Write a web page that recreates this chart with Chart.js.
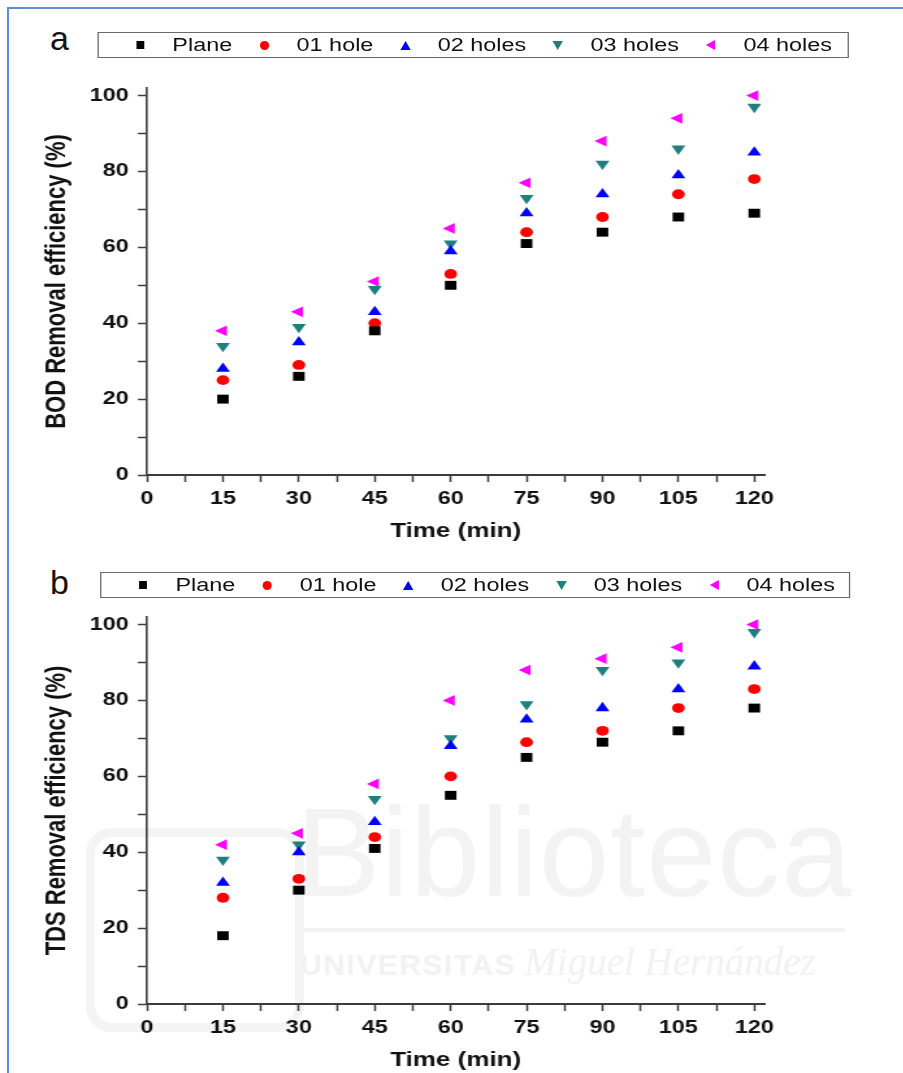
<!DOCTYPE html>
<html>
<head>
<meta charset="utf-8">
<script src="https://cdn.jsdelivr.net/npm/chart.js@4.4.1/dist/chart.umd.min.js"></script>
<style>
  html, body { margin: 0; padding: 0; background: #fff; width: 903px; height: 1073px; overflow: hidden;
    font-family: "Liberation Sans", Arial, sans-serif; }
  #frame { position: absolute; left: 7px; top: 7px; width: 1000px; height: 1200px;
    border-left: 2px solid #5b8fd6; border-top: 2px solid #5b8fd6; }
  .letter { position: absolute; font-size: 34px; color: #111; line-height: 1; }
  #wm { position: absolute; left: 0; top: 0; width: 903px; height: 1073px; pointer-events: none; }
  #wm .big { position: absolute; left: 296px; top: 790px; font-size: 126px; color: #f3f3f3; line-height: 1; letter-spacing: 1px; }
  #wm .rule { position: absolute; left: 300px; top: 928px; width: 545px; height: 4px; background: #f3f3f3; }
  #wm .sub { position: absolute; left: 300px; top: 942px; font-size: 30px; color: #f2f2f2; line-height: 1; white-space: nowrap; }
  #wm .sub b { font-weight: bold; letter-spacing: 1.5px; }
  #wm .sub i { font-family: "Liberation Serif", "DejaVu Serif", serif; font-style: italic; font-size: 39px; }
  #wm .logo { position: absolute; left: 86px; top: 828px; width: 200px; height: 186px; border: 9px solid #f4f4f4; border-radius: 26px; }
  #wrap { position: absolute; left: 0; top: 0; width: 695px; height: 1073px; transform: scaleX(1.3); transform-origin: 0 0; }
  .legend { position: absolute; height: 26px; border: 1px solid #6a6a6a; box-sizing: border-box; display: flex;
    align-items: center; font-size: 18px; color: #111; padding-left: 27px; white-space: nowrap; }
  .item { display: flex; align-items: center; margin-right: 19.5px; }
  .mkbox { width: 10px; height: 10px; margin-right: 20px; display: flex; align-items: center; justify-content: center; }
  .panel { position: absolute; left: 0; }
</style>
</head>
<body>
<div id="wm">
  <div class="logo"></div>
  <div class="big">Biblioteca</div>
  <div class="rule"></div>
  <div class="sub"><b>UNIVERSITAS</b> <i>Miguel Hernández</i></div>
</div>
<div id="frame"></div>
<div class="letter" style="left:50px; top:21px;">a</div>
<div class="letter" style="left:50px; top:565px;">b</div>
<div id="wrap">
  <div class="legend" id="legA" style="left:74.6px; top:32px; width:578px;"></div>
  <div class="legend" id="legB" style="left:77px; top:572px; width:577px;"></div>
  <div class="panel" style="top:60px;"><canvas id="chartA" width="680" height="490"></canvas></div>
  <div class="panel" style="top:589px;"><canvas id="chartB" width="680" height="490"></canvas></div>
</div>

<script>
// ---- data ----
const times = [15, 30, 45, 60, 75, 90, 105, 120];
const seriesNames = ["Plane", "01 hole", "02 holes", "03 holes", "04 holes"];

const bodPlane = [20, 26, 38, 50, 61, 64, 68, 69];
const bodHole1 = [25, 29, 40, 53, 64, 68, 74, 78];
const bodHole2 = [28, 35, 43, 59, 69, 74, 79, 85];
const bodHole3 = [34, 39, 49, 61, 73, 82, 86, 97];
const bodHole4 = [38, 43, 51, 65, 77, 88, 94, 100];

const tdsPlane = [18, 30, 41, 55, 65, 69, 72, 78];
const tdsHole1 = [28, 33, 44, 60, 69, 72, 78, 83];
const tdsHole2 = [32, 40, 48, 68, 75, 78, 83, 89];
const tdsHole3 = [38, 42, 54, 70, 79, 88, 90, 98];
const tdsHole4 = [42, 45, 58, 80, 88, 91, 94, 100];

const yTickLabels = [0, 20, 40, 60, 80, 100];
const xTickLabels = [0, 15, 30, 45, 60, 75, 90, 105, 120];

// ---- styles ----
const colors = ["#000000", "#ff0000", "#0000ff", "#1f7f7f", "#ff00ff"];
const pointStyles = ["rect", "circle", "triangle", "triangle", "triangle"];
const rotations = [0, 0, 0, 180, -90];
const radii = [6.3, 4.9, 6.2, 6.2, 6.2];
const FONT = "'Liberation Sans', Arial, Helvetica, sans-serif";
const AXIS = "#3c3c3c";

// ---- HTML legends ----
function legendMarker(i) {
  const c = colors[i];
  const m = document.createElement("div");
  if (i === 0) { m.style.cssText = `width:6px;height:8px;background:${c};`; }
  else if (i === 1) { m.style.cssText = `width:7px;height:9px;background:${c};border-radius:50%;`; }
  else if (i === 2) { m.style.cssText = `width:0;height:0;border-left:4.5px solid transparent;border-right:4.5px solid transparent;border-bottom:9px solid ${c};`; }
  else if (i === 3) { m.style.cssText = `width:0;height:0;border-left:4.5px solid transparent;border-right:4.5px solid transparent;border-top:9px solid ${c};`; }
  else { m.style.cssText = `width:0;height:0;border-top:5px solid transparent;border-bottom:5px solid transparent;border-right:7.5px solid ${c};`; }
  return m;
}
function buildLegend(id) {
  const el = document.getElementById(id);
  seriesNames.forEach((name, i) => {
    const it = document.createElement("div"); it.className = "item";
    const box = document.createElement("div"); box.className = "mkbox";
    box.appendChild(legendMarker(i));
    const tx = document.createElement("span"); tx.textContent = name;
    it.appendChild(box); it.appendChild(tx);
    el.appendChild(it);
  });
}
buildLegend("legA");
buildLegend("legB");

// ---- charts ----
function makeChart(canvasId, yTitle, series) {
  const datasets = seriesNames.map((name, i) => ({
    label: name,
    data: times.map((t, j) => ({ x: t, y: series[i][j] })),
    showLine: false,
    pointStyle: pointStyles[i],
    pointRotation: rotations[i],
    pointRadius: radii[i],
    pointHoverRadius: radii[i],
    pointBackgroundColor: colors[i],
    pointBorderColor: colors[i],
    pointBorderWidth: 0,
    backgroundColor: colors[i],
    borderColor: colors[i]
  }));
  return new Chart(document.getElementById(canvasId), {
    type: "scatter",
    data: { datasets },
    options: {
      responsive: false,
      animation: false,
      devicePixelRatio: 1,
      layout: { padding: { left: 30, right: 92, top: 28, bottom: 0 } },
      plugins: { legend: { display: false }, tooltip: { enabled: false } },
      scales: {
        x: {
          type: "linear", min: 0, max: 122,
          border: { color: AXIS, width: 2 },
          grid: { drawOnChartArea: false, drawTicks: true, tickLength: 7, color: AXIS, tickWidth: 1.5 },
          ticks: {
            stepSize: 7.5, includeBounds: false, autoSkip: false, maxRotation: 0, minRotation: 0,
            padding: 6, color: "#111", font: { family: FONT, size: 18, weight: "bold" },
            callback: v => xTickLabels.includes(v) ? String(v) : ""
          },
          title: { display: true, text: "Time (min)", color: "#111",
            font: { family: FONT, size: 20, weight: "bold" }, padding: { top: 0, bottom: 7 } },
          afterFit: s => { s.height = 75; }
        },
        y: {
          type: "linear", min: 0, max: 102,
          border: { color: AXIS, width: 1.6 },
          grid: { drawOnChartArea: false, drawTicks: true, tickLength: 7, color: AXIS, tickWidth: 1.5 },
          ticks: {
            stepSize: 10, includeBounds: false, autoSkip: false,
            padding: 7, color: "#111", font: { family: FONT, size: 18, weight: "bold" },
            callback: v => yTickLabels.includes(v) ? String(v) : ""
          },
          title: { display: true, text: yTitle, color: "#111",
            font: { family: FONT, size: 22, weight: "bold" }, padding: { top: 1, bottom: 0 } },
          afterFit: s => { s.width = 83.1; }
        }
      }
    }
  });
}

makeChart("chartA", "BOD Removal efficiency (%)", [bodPlane, bodHole1, bodHole2, bodHole3, bodHole4]);
makeChart("chartB", "TDS Removal efficiency (%)", [tdsPlane, tdsHole1, tdsHole2, tdsHole3, tdsHole4]);
</script>
</body>
</html>
